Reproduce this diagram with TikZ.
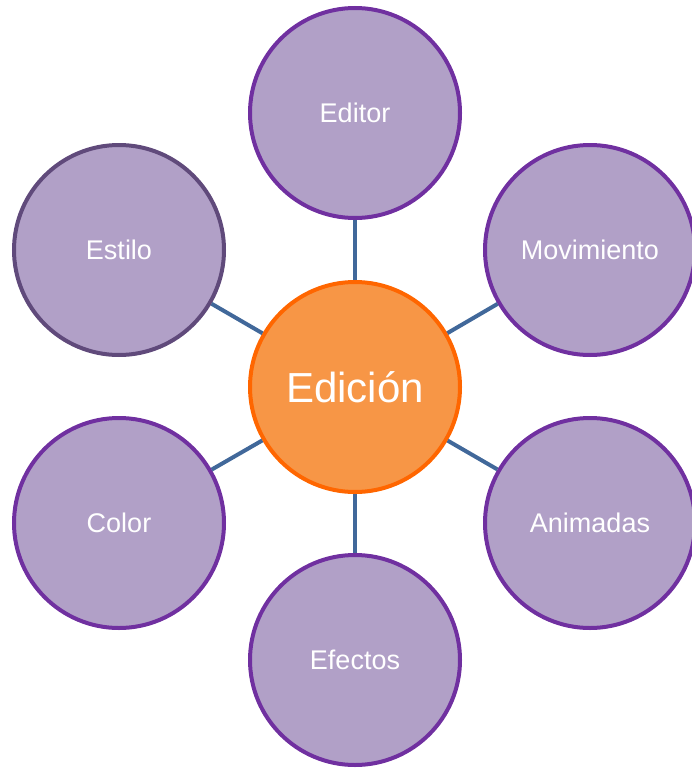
\documentclass[tikz,border=0pt]{standalone}
\usepackage{fontspec}
\setmainfont{Liberation Sans}
\usepackage{tikz}

\tikzset{
  topic/.style={circle, draw={rgb,255:red,112;green,48;blue,160}, line width=4pt,
    fill={rgb,255:red,177;green,160;blue,199}, minimum size=210pt, inner sep=0pt,
    text=white, font=\fontsize{27}{32}\selectfont},
  hub/.style={topic, draw={rgb,255:red,255;green,102;blue,0},
    fill={rgb,255:red,247;green,150;blue,70}, font=\fontsize{42}{50}\selectfont},
  spoke/.style={draw={rgb,255:red,65;green,104;blue,154}, line width=4pt}
}

\begin{document}
\begin{tikzpicture}[x=1pt,y=1pt,yscale=-1,xscale=1]
\useasboundingbox (0,0) rectangle (692,768);

% Center
\node [hub] (edicion) at (355,387) {Edición};

% Outer circles
\node [topic] (editor) at (355,113) {Editor};
\node [topic] (movimiento) at (590,250) {Movimiento};
\node [topic] (animadas) at (590,523) {Animadas};
\node [topic] (efectos) at (355,660) {Efectos};
\node [topic] (color) at (119,523) {Color};
\node [topic, draw={rgb,255:red,96;green,74;blue,123}] (estilo) at (119,250) {Estilo};

% Spokes
\draw [spoke] (edicion) -- (editor);
\draw [spoke] (edicion) -- (movimiento);
\draw [spoke] (edicion) -- (animadas);
\draw [spoke] (edicion) -- (efectos);
\draw [spoke] (edicion) -- (color);
\draw [spoke] (edicion) -- (estilo);

\end{tikzpicture}
\end{document}
